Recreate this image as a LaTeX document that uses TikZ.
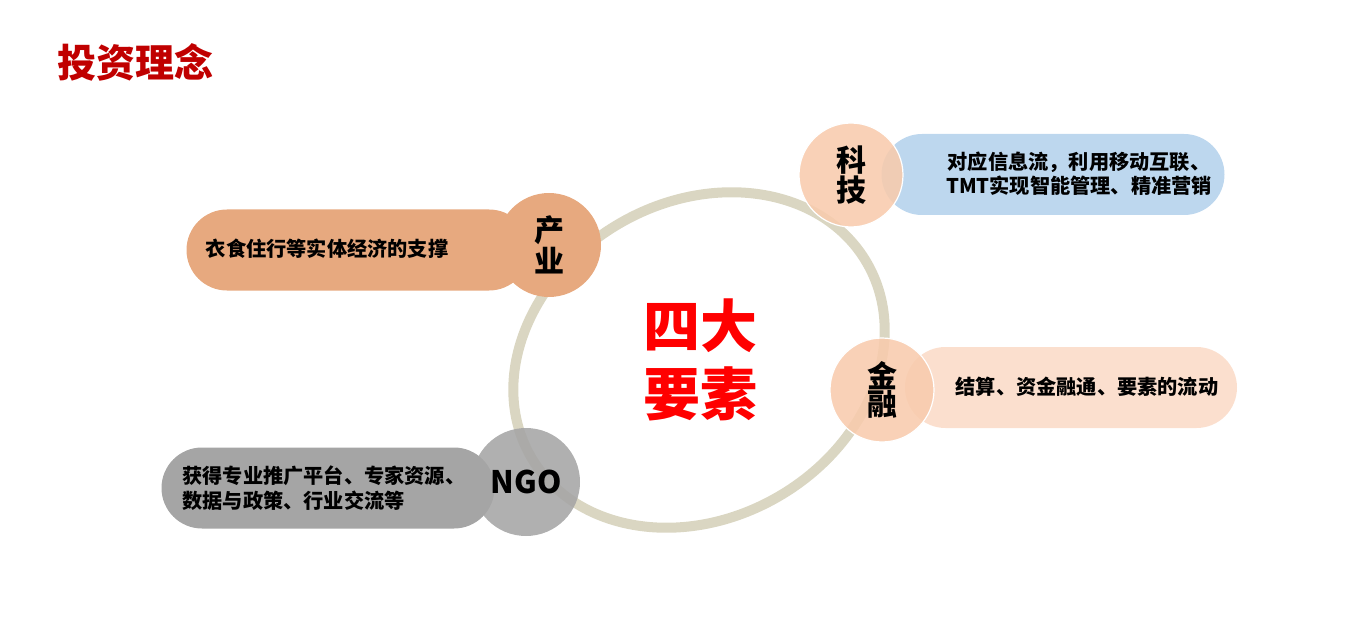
\documentclass[tikz,border=0pt]{standalone}
\usepackage{fontspec}
\setmainfont{Noto Sans CJK SC}
\usetikzlibrary{shapes.misc}
\definecolor{titlered}{HTML}{C00000}
\definecolor{ringbeige}{HTML}{DAD6C2}
\definecolor{indorange}{HTML}{E7A97F}
\definecolor{peach}{HTML}{F8CBAD}
\definecolor{techblue}{HTML}{BDD7EE}
\definecolor{finpink}{HTML}{FBDFCE}
\definecolor{ngogray}{HTML}{A5A5A5}

\begin{document}
\begin{tikzpicture}[
  x=0.5pt,
  y=-0.5pt,
  every node/.style={font=\bfseries},
  pill/.style={rounded rectangle, inner sep=0pt, minimum height=40.5pt},
  disc/.style={circle, inner sep=0pt, minimum size=52pt, align=center,
    font=\fontsize{15}{14}\selectfont\bfseries},
  note/.style={font=\fontsize{10.1}{12.2}\selectfont\bfseries}
]
  \useasboundingbox (0,0) rectangle (1372,642);

  % Title
  \node[anchor=west, inner sep=0pt, text=titlered, font=\fontsize{19.5}{20}\selectfont\bfseries]
    (title) at (57,62) {投资理念};

  % The ring
  \draw[ringbeige, line width=5pt] (699,360) ellipse [x radius=194, y radius=158, rotate=30];

  % Pills
  \node[pill, fill=indorange, minimum width=171.5pt] (pill-ind) at (358,250) {};
  \node[pill, fill=techblue,  minimum width=171.5pt] (pill-tech) at (1053,174.5) {};
  \node[pill, fill=finpink,   minimum width=166pt]   (pill-fin) at (1071,387.5) {};
  \node[pill, fill=ngogray,   minimum width=166.5pt] (pill-ngo) at (328,488) {};

  % Discs
  \node[disc, fill=indorange] (disc-ind) at (549,245) {产\\业};
  \node[disc, fill=peach, fill opacity=0.88, text opacity=1, draw=white, line width=0.6pt]
    (disc-tech) at (851,175) {科\\技};
  \node[disc, fill=peach, fill opacity=0.88, text opacity=1, draw=white, line width=0.6pt]
    (disc-fin) at (882,390) {金\\融};
  \node[disc, fill=ngogray, fill opacity=0.88, text opacity=1, minimum size=54pt,
    font=\fontsize{15.5}{16}\selectfont\bfseries] (disc-ngo) at (526,482) {NGO};

  % Notes
  \node[note] (txt-ind) at (327,249) {衣食住行等实体经济的支撑};
  \node[note, align=center] (txt-tech) at (1079,174) {对应信息流，利用移动互联、\\TMT实现智能管理、精准营销};
  \node[note] (txt-fin) at (1087,387) {结算、资金融通、要素的流动};
  \node[note, anchor=west, inner sep=0pt, align=left] (txt-ngo) at (182,488) {获得专业推广平台、专家资源、\\数据与政策、行业交流等};

  % Centre
  \node[text=red, align=center, font=\fontsize{28.5}{34}\selectfont\bfseries]
    (core) at (700,360) {四大\\要素};
\end{tikzpicture}
\end{document}
